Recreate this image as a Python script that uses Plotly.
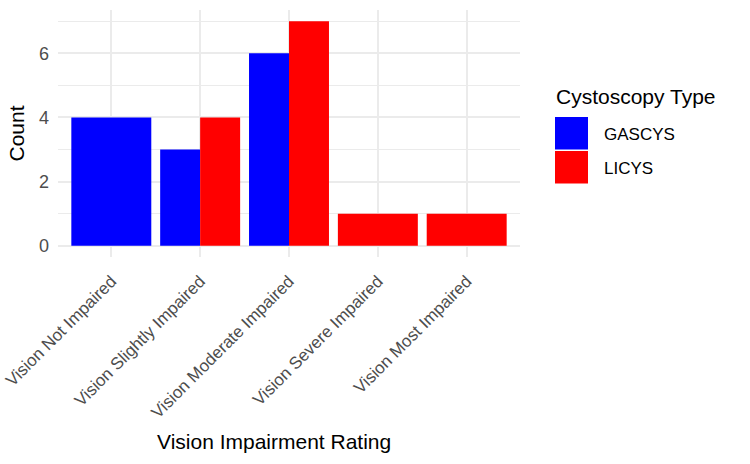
import plotly.graph_objects as go

categories = ["Vision Not Impaired", "Vision Slightly Impaired", "Vision Moderate Impaired",
              "Vision Severe Impaired", "Vision Most Impaired"]
gascys = [4, 3, 6, 0, 0]
licys = [0, 4, 7, 1, 1]
groups = ["GASCYS", "LICYS"]
colors = {"GASCYS": "#0000FF", "LICYS": "#FF0000"}

W, H = 750, 464
ML, MR, MT, MB = 58, 230, 10, 207
PW, PH = W - ML - MR, H - MT - MB

def px_x(x):
    return (x - ML) / PW

def px_y(y):
    return (H - MB - y) / PH

# ggplot-like dodge (full width when only one group present)
series = {"GASCYS": gascys, "LICYS": licys}
total_w = 0.9
offsets = {g: [] for g in groups}
widths = {g: [] for g in groups}
yvals = {g: [] for g in groups}
for i in range(len(categories)):
    present = [g for g in groups if series[g][i] > 0]
    n = len(present)
    for g in groups:
        if g in present:
            k = present.index(g)
            w = total_w / n
            offsets[g].append(-total_w / 2 + k * w)
            widths[g].append(w)
            yvals[g].append(series[g][i])
        else:
            offsets[g].append(0)
            widths[g].append(0.01)
            yvals[g].append(None)

fig = go.Figure()
for g in groups:
    fig.add_trace(go.Bar(
        x=categories, y=yvals[g], name=g,
        offset=offsets[g], width=widths[g],
        marker=dict(color=colors[g], line=dict(width=0)),
        showlegend=False,
    ))

font_family = "Liberation Sans, Arial, sans-serif"

fig.update_layout(
    width=W, height=H,
    margin=dict(l=ML, r=MR, t=MT, b=MB, autoexpand=False),
    paper_bgcolor="white", plot_bgcolor="white",
    barmode="overlay",
    font=dict(family=font_family, color="#4D4D4D", size=17),
    xaxis=dict(
        type="category", range=[-0.6, 4.6], automargin=False,
        tickangle=-45, showgrid=True, gridcolor="#EBEBEB", gridwidth=1.6,
        zeroline=False, showline=False, ticks="",
        tickfont=dict(size=17, color="#4D4D4D"),
        ticklabelstandoff=10,
    ),
    yaxis=dict(
        range=[-0.35, 7.35], tickvals=[0, 2, 4, 6], automargin=False,
        showgrid=True, gridcolor="#EBEBEB", gridwidth=1.6,
        zeroline=False, showline=False, ticks="",
        tickfont=dict(size=18, color="#4D4D4D"),
        ticklabelstandoff=8,
        minor=dict(tickvals=[1, 3, 5, 7], showgrid=True, gridcolor="#EBEBEB", gridwidth=0.8),
    ),
)

annotations = [
    dict(text="Vision Impairment Rating", x=px_x(274), y=px_y(441.7), xref="paper", yref="paper",
         showarrow=False, font=dict(size=21, color="black", family=font_family),
         xanchor="center", yanchor="middle"),
    dict(text="Count", x=px_x(16), y=px_y(133.5), xref="paper", yref="paper", textangle=-90,
         showarrow=False, font=dict(size=21, color="black", family=font_family),
         xanchor="center", yanchor="middle"),
    dict(text="Cystoscopy Type", x=px_x(554), y=px_y(96.7), xref="paper", yref="paper",
         showarrow=False, font=dict(size=21, color="black", family=font_family),
         xanchor="left", yanchor="middle"),
]
shapes = []
key_tops = [117, 151]
for g, top in zip(groups, key_tops):
    shapes.append(dict(type="rect", xref="paper", yref="paper",
                       x0=px_x(555), x1=px_x(588), y0=px_y(top), y1=px_y(top + 32.5),
                       fillcolor=colors[g], line=dict(width=0)))
    annotations.append(dict(text=g, x=px_x(601.5), y=px_y(top + 17), xref="paper", yref="paper",
                            showarrow=False, font=dict(size=17, color="black", family=font_family),
                            xanchor="left", yanchor="middle"))

fig.update_layout(annotations=annotations, shapes=shapes)

fig.write_html("out.html")
